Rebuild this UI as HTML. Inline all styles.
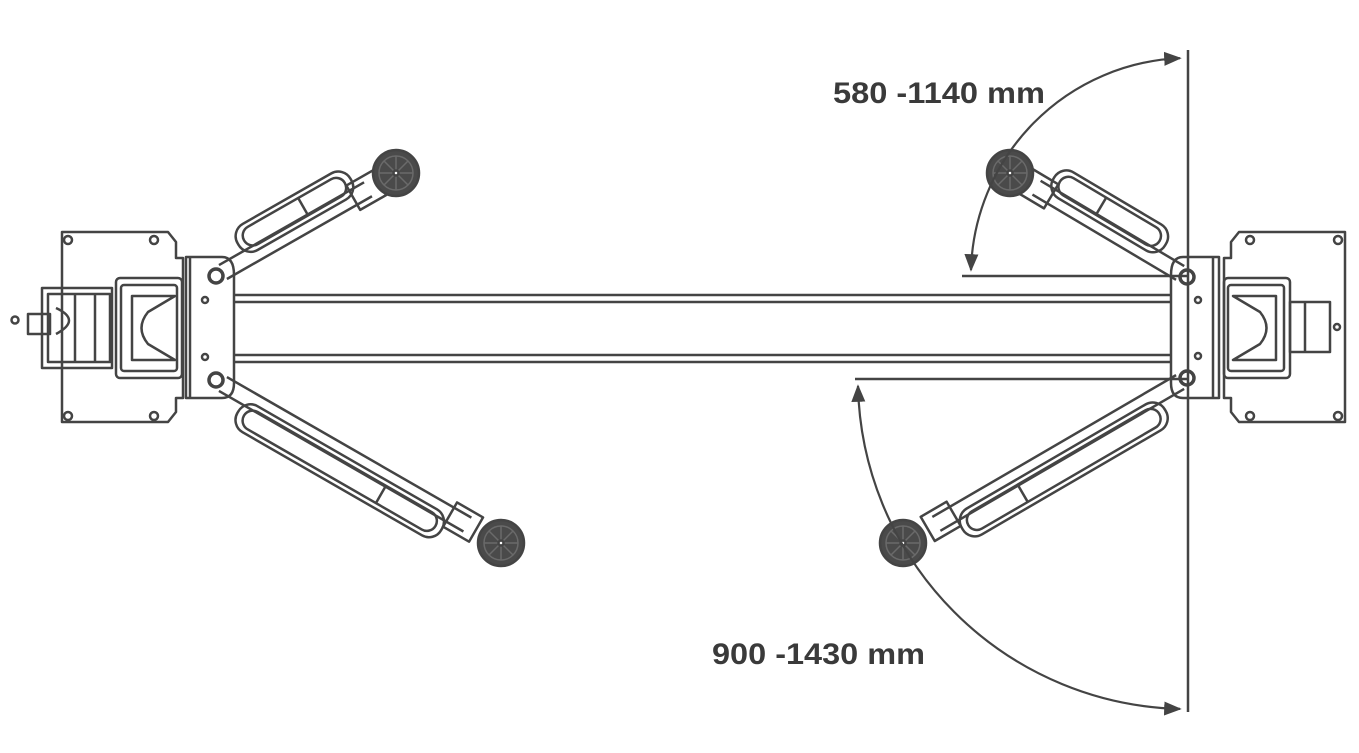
<!DOCTYPE html>
<html><head><meta charset="utf-8"><style>
html,body{margin:0;padding:0;background:#fff;}
svg{display:block}
text{font-family:"Liberation Sans",sans-serif;font-weight:bold;fill:#3a3a3a;font-size:30px}
</style></head><body>
<svg width="1359" height="753" viewBox="0 0 1359 753" xmlns="http://www.w3.org/2000/svg">
<defs>
<marker id="ah" viewBox="0 0 10 10" refX="9" refY="5" markerWidth="8" markerHeight="8" orient="auto-start-reverse"><path d="M0,1 L10,5 L0,9 z" fill="#444"/></marker>
<g id="wheel">
<circle r="23" fill="#4a4a4a"/>
<circle r="17" fill="none" stroke="#6a6a6a" stroke-width="1.5"/>
<g stroke="#6a6a6a" stroke-width="1.5">
<line x1="-17" y1="0" x2="17" y2="0"/><line x1="0" y1="-17" x2="0" y2="17"/>
<line x1="-12" y1="-12" x2="12" y2="12"/><line x1="-12" y1="12" x2="12" y2="-12"/>
</g>
<circle r="2.5" fill="#fff"/>
</g>
</defs>
<g fill="none" stroke="#444" stroke-width="2.5" stroke-linejoin="round">
<line x1="235" y1="295" x2="1170" y2="295"/><line x1="235" y1="302" x2="1170" y2="302"/>
<line x1="235" y1="355" x2="1170" y2="355"/><line x1="235" y1="362" x2="1170" y2="362"/>

<path d="M62,232 H168 L176,242 V258 H183 V398 H176 V412 L168,422 H62 Z"/>
<circle cx="68" cy="240" r="4"/><circle cx="154" cy="240" r="4"/><circle cx="68" cy="416" r="4"/><circle cx="154" cy="416" r="4"/>
<path d="M186,257 H222 Q234,257 234,275 V383 Q234,398 222,398 H186 Z"/>
<line x1="190" y1="258" x2="190" y2="397"/>
<circle cx="216" cy="276" r="7" stroke-width="3.5"/><circle cx="216" cy="380" r="7" stroke-width="3.5"/>
<circle cx="205" cy="300" r="3"/><circle cx="205" cy="357" r="3"/>
<rect x="116" y="278" width="66" height="100" rx="4"/>
<rect x="121" y="285" width="56" height="86" rx="3"/>
<path d="M132,296 H175 L148,312 Q135,328 148,344 L175,360 H132 Z"/>
<path d="M42,288 H112 V368 H42 Z" />
<path d="M48,294 H110 V362 H48 Z"/>
<path d="M56,308 Q82,320 56,334"/>
<line x1="75" y1="294" x2="75" y2="362"/><line x1="95" y1="294" x2="95" y2="362"/>
<rect x="28" y="314" width="22" height="20"/>
<circle cx="15" cy="320" r="3.5"/>
<path d="M1345,232 H1239 L1231,242 V258 H1224 V398 H1231 V412 L1239,422 H1345 Z"/>
<circle cx="1250" cy="240" r="4"/><circle cx="1338" cy="240" r="4"/><circle cx="1250" cy="416" r="4"/><circle cx="1338" cy="416" r="4"/>
<path d="M1219,257 H1183 Q1171,257 1171,275 V383 Q1171,398 1183,398 H1219 Z"/>
<line x1="1213" y1="258" x2="1213" y2="397"/>
<circle cx="1187" cy="277" r="7" stroke-width="3.5"/><circle cx="1187" cy="378" r="7" stroke-width="3.5"/>
<circle cx="1198" cy="300" r="3"/><circle cx="1198" cy="356" r="3"/>
<rect x="1224" y="278" width="66" height="100" rx="4"/>
<rect x="1228" y="285" width="56" height="86" rx="3"/>
<path d="M1276,296 H1233 L1260,312 Q1273,328 1260,344 L1233,360 H1276 Z"/>
<path d="M1290,302 H1330 V352 H1290 Z"/>
<line x1="1305" y1="302" x2="1305" y2="352"/>
<circle cx="1337" cy="327" r="3"/>

<g transform="translate(216,276) rotate(-29.7)">
<line x1="8" y1="-8" x2="175" y2="-8"/><line x1="8" y1="8" x2="175" y2="8"/>
<rect x="35" y="-32" width="130" height="30" rx="14"/>
<rect x="42" y="-27" width="116" height="20" rx="10"/>
<line x1="110" y1="-27" x2="110" y2="-7"/>
<rect x="158" y="-14" width="30" height="28"/>
</g>
<use href="#wheel" x="396" y="173"/>
<g transform="translate(216,380) rotate(29.9)">
<line x1="8" y1="-8" x2="290" y2="-8"/><line x1="8" y1="8" x2="290" y2="8"/>
<rect x="35" y="2" width="235" height="30" rx="14"/>
<rect x="42" y="7" width="221" height="20" rx="10"/>
<line x1="200" y1="7" x2="200" y2="27"/>
<rect x="270" y="-14" width="30" height="28"/>
</g>
<use href="#wheel" x="501" y="543"/>
<g transform="translate(1187,277) rotate(-149.3)">
<line x1="8" y1="-8" x2="175" y2="-8"/><line x1="8" y1="8" x2="175" y2="8"/>
<rect x="35" y="2" width="130" height="30" rx="14"/>
<rect x="42" y="7" width="116" height="20" rx="10"/>
<line x1="110" y1="7" x2="110" y2="27"/>
<rect x="158" y="-14" width="30" height="28"/>
</g>
<use href="#wheel" x="1010" y="173"/>
<g transform="translate(1187,378) rotate(149.8)">
<line x1="8" y1="-8" x2="290" y2="-8"/><line x1="8" y1="8" x2="290" y2="8"/>
<rect x="35" y="-32" width="235" height="30" rx="14"/>
<rect x="42" y="-27" width="221" height="20" rx="10"/>
<line x1="200" y1="-27" x2="200" y2="-7"/>
<rect x="270" y="-14" width="30" height="28"/>
</g>
<use href="#wheel" x="903" y="543"/>

<line x1="1188" y1="50" x2="1188" y2="712"/>
<line x1="962" y1="276" x2="1188" y2="276"/>
<line x1="855" y1="379" x2="1188" y2="379"/>
<path d="M1180,58.2 A218,218 0 0 0 971,270" marker-start="url(#ah)" marker-end="url(#ah)" stroke-width="2.2"/>
<path d="M858,386 A330,330 0 0 0 1180,708.9" marker-start="url(#ah)" marker-end="url(#ah)" stroke-width="2.2"/>
</g>
<text x="833" y="103" textLength="212" lengthAdjust="spacingAndGlyphs">580 -1140 mm</text>
<text x="712" y="664" textLength="213" lengthAdjust="spacingAndGlyphs">900 -1430 mm</text>
</svg>
</body></html>
